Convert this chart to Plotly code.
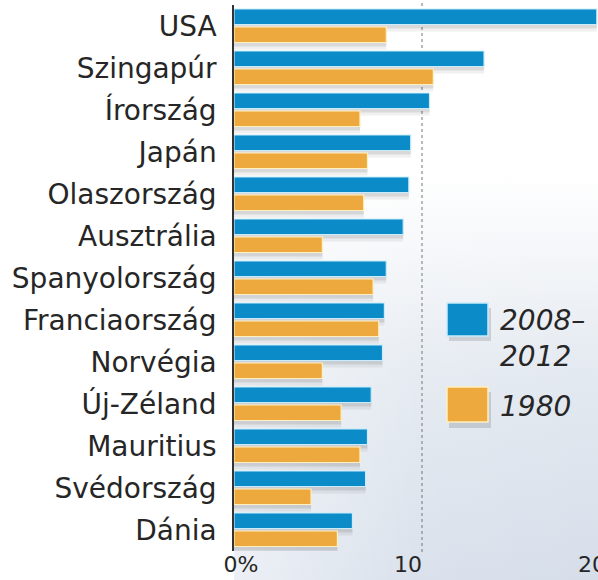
import plotly.graph_objects as go

countries = ["USA", "Szingapúr", "Írország", "Japán", "Olaszország", "Ausztrália",
             "Spanyolország", "Franciaország", "Norvégia", "Új-Zéland", "Mauritius",
             "Svédország", "Dánia"]
values_2008_2012 = [19.3, 13.3, 10.4, 9.4, 9.3, 9.0, 8.1, 8.0, 7.9, 7.3, 7.1, 7.0, 6.3]
values_1980 = [8.1, 10.6, 6.7, 7.1, 6.9, 4.7, 7.4, 7.7, 4.7, 5.7, 6.7, 4.1, 5.5]
series_names = ["2008–<br>2012", "1980"]
x_tick_labels = ["0%", "10", "20"]
x_tick_positions = [0.37, 9.26, 19.04]
grid_value = 10

W, H = 598, 580
BLUE = "#0b8bc7"
ORANGE = "#eda93d"
ROW_PX = 42.0

x_left = 234 / W
y_top = 1 - 5 / H
y_bot = 1 - 551 / H
x_max = (W - 234) / 18.8

def off(px):
    return px / ROW_PX

fig = go.Figure()

# background gradient (subplot xy)
fig.add_trace(go.Scatter(
    x=[0, x_max, x_max, 0, 0], y=[0, 0, 1, 1, 0], fill="toself", mode="lines",
    line=dict(width=0), hoverinfo="skip", showlegend=False,
    fillgradient=dict(type="vertical", start=0, stop=1,
                      colorscale=[[0, "#d6deea"], [0.35, "#e3e9f0"], [0.7, "#ffffff"], [1, "#ffffff"]]),
    xaxis="x", yaxis="y"))
fig.add_trace(go.Scatter(
    x=[0, x_max, x_max, 0, 0], y=[0, 0, 1, 1, 0], fill="toself", mode="lines",
    line=dict(width=0), hoverinfo="skip", showlegend=False,
    fillgradient=dict(type="horizontal", start=0, stop=x_max,
                      colorscale=[[0, "rgba(255,255,255,0.55)"], [0.5, "rgba(255,255,255,0.1)"], [1, "rgba(255,255,255,0)"]]),
    xaxis="x", yaxis="y"))
# dotted reference line at 10 (under the bars)
fig.add_trace(go.Scatter(
    x=[grid_value, grid_value], y=[1 - 552 / H, 1], mode="lines",
    line=dict(color="#777777", width=1, dash="dot"), hoverinfo="skip", showlegend=False,
    xaxis="x", yaxis="y"))

bar_w = off(15.5)
blue_off = off(-17)
orange_off = off(1)

# soft shadows (two layers)
for sh_px, alpha in ((4, 0.13), (7, 0.08)):
    for vals, o in ((values_2008_2012, blue_off), (values_1980, orange_off)):
        fig.add_trace(go.Bar(
            y=countries, x=vals, orientation="h", offset=o + off(sh_px), width=bar_w,
            marker=dict(color=f"rgba(60,60,70,{alpha})", line=dict(width=0)),
            hoverinfo="skip", showlegend=False, xaxis="x2", yaxis="y2"))

fig.add_trace(go.Bar(
    y=countries, x=values_2008_2012, orientation="h", offset=blue_off, width=bar_w,
    name=series_names[0], marker=dict(color=BLUE, line=dict(color="#c8ecfb", width=1.2)),
    showlegend=False, xaxis="x2", yaxis="y2"))
fig.add_trace(go.Bar(
    y=countries, x=values_1980, orientation="h", offset=orange_off, width=bar_w,
    name=series_names[1], marker=dict(color=ORANGE, line=dict(color="#fff0bf", width=1.2)),
    showlegend=False, xaxis="x2", yaxis="y2"))

fig.update_layout(
    width=W, height=H,
    margin=dict(l=0, r=0, t=0, b=0),
    paper_bgcolor="white", plot_bgcolor="rgba(0,0,0,0)",
    barmode="overlay",
    font=dict(family="DejaVu Sans", color="#262626"),
    xaxis=dict(domain=[x_left, 1], range=[0, x_max], visible=False, fixedrange=True, automargin=False),
    yaxis=dict(domain=[0, 1], range=[0, 1], visible=False, fixedrange=True, automargin=False),
    xaxis2=dict(domain=[x_left, 1], anchor="y2", range=[0, x_max], automargin=False,
                showgrid=False, zeroline=False, showline=False,
                tickvals=x_tick_positions, ticktext=x_tick_labels, ticks="",
                ticklabelstandoff=-2, ticklabeloverflow="allow",
                tickfont=dict(size=22, color="#262626")),
    yaxis2=dict(domain=[y_bot, y_top], anchor="x2", type="category", automargin=False,
                categoryorder="array", categoryarray=countries,
                range=[len(countries) - 0.5, -0.5],
                showgrid=False, zeroline=False, showline=True,
                linecolor="#333333", linewidth=1.5, ticks="",
                ticklabelstandoff=10,
                tickfont=dict(size=28, color="#262626")),
    shapes=[
        dict(type="rect", xref="paper", yref="paper",
             x0=449 / W, x1=491 / W, y0=1 - 341 / H, y1=1 - 308 / H,
             fillcolor="rgba(60,60,70,0.18)", line=dict(width=0)),
        dict(type="rect", xref="paper", yref="paper",
             x0=449 / W, x1=491 / W, y0=1 - 428 / H, y1=1 - 392 / H,
             fillcolor="rgba(60,60,70,0.18)", line=dict(width=0)),
        dict(type="rect", xref="paper", yref="paper",
             x0=447 / W, x1=488 / W, y0=1 - 336 / H, y1=1 - 303 / H,
             fillcolor=BLUE, line=dict(color="#c8ecfb", width=1.5)),
        dict(type="rect", xref="paper", yref="paper",
             x0=447 / W, x1=488 / W, y0=1 - 422 / H, y1=1 - 387 / H,
             fillcolor=ORANGE, line=dict(color="#fff0bf", width=1.5)),
    ],
    annotations=[
        dict(xref="paper", yref="paper", x=498 / W, y=1 - 338 / H, xanchor="left", yanchor="middle",
             text="<i>" + series_names[0] + "</i>", showarrow=False, align="left",
             font=dict(size=28, color="#262626")),
        dict(xref="paper", yref="paper", x=498 / W, y=1 - 406 / H, xanchor="left", yanchor="middle",
             text="<i>" + series_names[1] + "</i>", showarrow=False, align="left",
             font=dict(size=28, color="#262626")),
    ],
)

fig.write_html("out.html", config={"displayModeBar": False},
               post_script="document.body.style.margin='0';document.body.style.overflow='hidden';")
